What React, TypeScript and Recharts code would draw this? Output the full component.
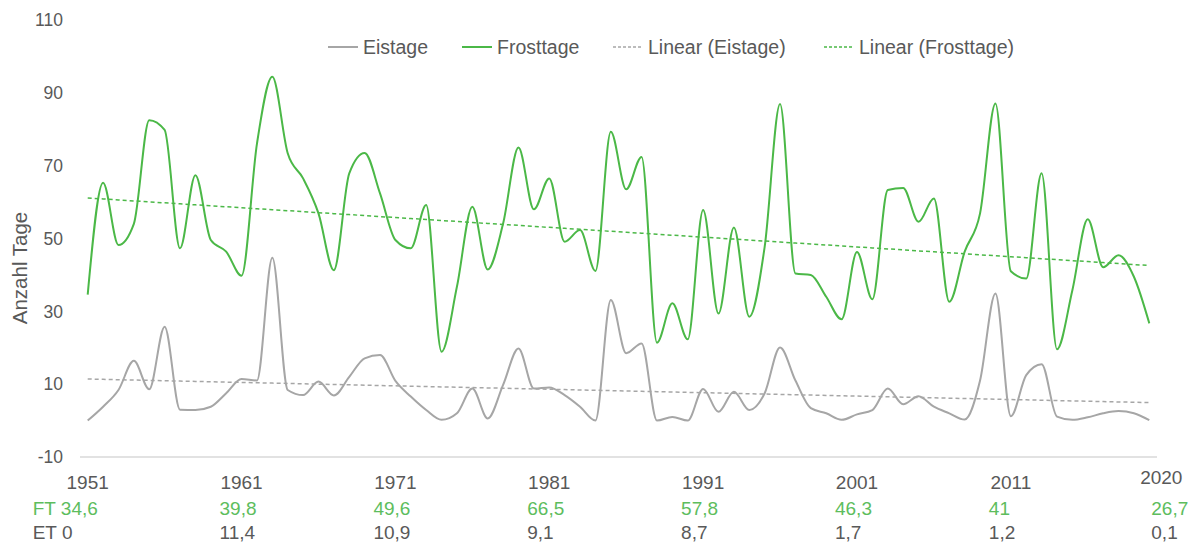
import React from 'react';
import { LineChart, Line, XAxis, YAxis, Legend } from 'recharts';

const years = Array.from({ length: 70 }, (_, i) => 1951 + i);
const tickYears = [1951, 1961, 1971, 1981, 1991, 2001, 2011, 2020];
const yTicks = [-10, 10, 30, 50, 70, 90, 110];

// Frosttage 1951-2020
const frosttage = [
    34.6, 65.3, 48.2, 54, 82.5, 79.8, 47.3, 67.4, 49.6, 46.4,
    39.8, 76, 94.4, 73.4, 66.5, 56.9, 41.3, 67.9, 73.5, 62.4,
    49.6, 47.3, 59.2, 18.9, 36.8, 58.7, 41.5, 54.1, 75, 58,
    66.5, 49.1, 52.3, 41.1, 79.3, 63.5, 72.4, 21.4, 32.2, 22.3,
    57.8, 29.4, 53, 28.5, 47.7, 86.9, 40.4, 40, 34, 27.8,
    46.3, 33.3, 63.3, 63.9, 54.6, 61, 32.6, 46.4, 56.9, 87.1,
    41, 39, 67.9, 19.6, 35.8, 55.3, 42.1, 45.4, 39.5, 26.7,
];

// Eistage 1951-2020
const eistage = [
    0, 3.8, 8.4, 16.4, 8.6, 25.8, 3, 2.9, 3.8, 7.5,
    11.4, 11, 44.7, 8.4, 7, 10.7, 6.9, 12, 17.1, 18,
    10.9, 6.6, 2.9, 0.2, 2, 8.8, 0.6, 9.8, 19.8, 8.8,
    9.1, 7, 3.8, 0, 33.1, 18.5, 21.2, 0, 1, 0,
    8.7, 2.4, 7.9, 2.9, 7.5, 20.1, 11, 3.4, 2, 0.2,
    1.7, 2.9, 8.8, 4.5, 6.7, 3.8, 2, 0.3, 11, 34.9,
    1.2, 12.5, 15.5, 1.1, 0.2, 0.9, 2, 2.6, 2, 0.1,
];

const GREEN = '#4bb847';
const GREEN_TEXT = '#5dbd5d';
const GRAY = '#a6a6a6';
const TEXT = '#595959';

// least squares, like the Excel "Linear" trendline
const linearFit = (ys: number[]) => {
    const n = ys.length;
    const mx = (n - 1) / 2;
    const my = ys.reduce((a, b) => a + b, 0) / n;
    let sxy = 0;
    let sxx = 0;
    ys.forEach((y, i) => {
        sxy += (i - mx) * (y - my);
        sxx += (i - mx) * (i - mx);
    });
    const slope = sxy / sxx;
    return ys.map((_, i) => my + slope * (i - mx));
};

const trendEis = linearFit(eistage);
const trendFrost = linearFit(frosttage);

const data = years.map((year, i) => ({
    year,
    eistage: eistage[i],
    frosttage: frosttage[i],
    trendEis: trendEis[i],
    trendFrost: trendFrost[i],
}));

const legendItems = [
    { name: 'Eistage', color: GRAY, dashed: false, width: 134 },
    { name: 'Frosttage', color: GREEN, dashed: false, width: 151 },
    { name: 'Linear (Eistage)', color: GRAY, dashed: true, width: 211 },
    { name: 'Linear (Frosttage)', color: GREEN, dashed: true, width: 200 },
];

const fmt = (v: number) => String(v).replace('.', ',');

const YearTick = ({ x, y, payload }: any) => {
    const i = years.indexOf(payload.value);
    const first = i === 0;
    const last = i === years.length - 1;
    const valueX = first ? x - 55 : last ? x + 2 : x - 22;
    return (
        <g fontSize={19}>
            <text x={last ? x + 12 : x} y={last ? y + 27 : y + 32} textAnchor="middle" fill={TEXT}>
                {payload.value}
            </text>
            <text x={valueX} y={y + 58} fill={GREEN_TEXT}>
                {(first ? 'FT ' : '') + fmt(frosttage[i])}
            </text>
            <text x={valueX} y={y + 82} fill={TEXT}>
                {(first ? 'ET ' : '') + fmt(eistage[i])}
            </text>
        </g>
    );
};

const YLabel = () => (
    <text x={27} y={268} transform="rotate(-90, 27, 268)" textAnchor="middle" fill={TEXT} fontSize={20.5}>
        Anzahl Tage
    </text>
);

const renderLegend = () => (
    <div style={{ display: 'flex', fontSize: 19.5, color: TEXT, lineHeight: '22px' }}>
        {legendItems.map((item) => (
            <div key={item.name} style={{ display: 'flex', alignItems: 'center', width: item.width }}>
                <svg width={30} height={4} style={{ marginRight: 5 }}>
                    <line
                        x1={0}
                        y1={2}
                        x2={30}
                        y2={2}
                        stroke={item.color}
                        strokeWidth={item.dashed ? 1.5 : 2}
                        strokeDasharray={item.dashed ? '3 2' : undefined}
                    />
                </svg>
                <span>{item.name}</span>
            </div>
        ))}
    </div>
);

const App = () => {
    return (
        <div style={{ position: 'absolute', left: 0, top: 0, fontFamily: '"Liberation Sans", Arial, sans-serif' }}>
            <LineChart width={1199} height={545} data={data} margin={{ top: 20, right: 42, left: 0, bottom: 0 }}>
                <XAxis
                    dataKey="year"
                    ticks={tickYears}
                    interval={0}
                    height={88}
                    padding={{ left: 7.7, right: 7.7 }}
                    axisLine={{ stroke: '#d9d9d9', strokeWidth: 1.5 }}
                    tickLine={false}
                    tickSize={0}
                    tickMargin={0}
                    tick={<YearTick />}
                />
                <YAxis
                    domain={[-10, 110]}
                    ticks={yTicks}
                    interval={0}
                    width={80}
                    axisLine={false}
                    tickLine={false}
                    tickSize={0}
                    tickMargin={17}
                    tick={{ fill: TEXT, fontSize: 17.5 }}
                    label={<YLabel />}
                />
                <Legend
                    verticalAlign="middle"
                    align="center"
                    layout="horizontal"
                    wrapperStyle={{ left: 328, top: 36, width: 760 }}
                    content={renderLegend}
                />
                <Line type="monotone" dataKey="eistage" stroke={GRAY} strokeWidth={2} dot={false} isAnimationActive={false} />
                <Line type="monotone" dataKey="frosttage" stroke={GREEN} strokeWidth={2} dot={false} isAnimationActive={false} />
                <Line
                    type="linear"
                    dataKey="trendEis"
                    stroke={GRAY}
                    strokeWidth={1.5}
                    strokeDasharray="4 3"
                    dot={false}
                    isAnimationActive={false}
                />
                <Line
                    type="linear"
                    dataKey="trendFrost"
                    stroke={GREEN}
                    strokeWidth={1.5}
                    strokeDasharray="4 3"
                    dot={false}
                    isAnimationActive={false}
                />
            </LineChart>
        </div>
    );
};

export default App;
